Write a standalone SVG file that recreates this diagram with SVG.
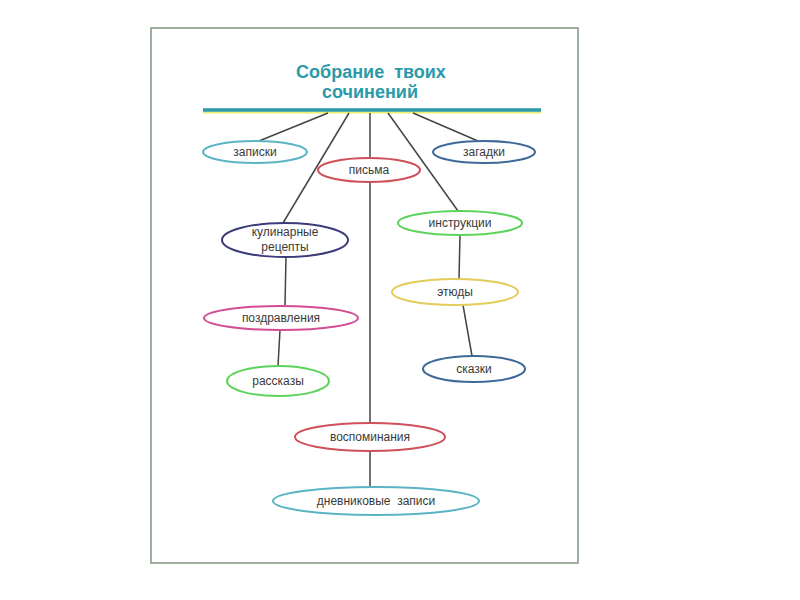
<svg xmlns="http://www.w3.org/2000/svg" width="800" height="600" viewBox="0 0 800 600">
<style>
.n ellipse{fill:#fff;stroke-width:2}
.n text{font-family:"Liberation Sans",Arial,sans-serif;font-size:12px;fill:#3a3a3a;text-anchor:middle}
.title{font-family:"Liberation Sans",Arial,sans-serif;font-size:18px;font-weight:bold;fill:#2a9aa8;text-anchor:middle}
#connectors line{stroke:#444;stroke-width:1.5}
.teal{stroke:#5ab4c4}.red{stroke:#d0505a}.blue{stroke:#3d6a98}.navy{stroke:#3c3c78}.green{stroke:#5cd45c}.mag{stroke:#d24e94}.yel{stroke:#e2cc5a}
</style>
<rect width="800" height="600" fill="#fff"/>
<rect x="151" y="28" width="427" height="535" fill="#fff" stroke="#7f957f" stroke-width="1.5"/>
<g id="title">
<text class="title" x="371" y="78" word-spacing="5">Собрание твоих</text>
<text class="title" x="370" y="98">сочинений</text>
<line x1="203" y1="112.5" x2="541" y2="112.5" stroke="#f0ee70" stroke-width="2"/>
<line x1="203" y1="110" x2="541" y2="110" stroke="#2a9aa8" stroke-width="3.5"/>
</g>
<g id="connectors">
<line x1="328" y1="113" x2="259" y2="141"/>
<line x1="349" y1="113" x2="283" y2="223"/>
<line x1="370" y1="113" x2="370" y2="158"/>
<line x1="388" y1="113" x2="458" y2="211"/>
<line x1="413" y1="113" x2="478" y2="141"/>
<line x1="286" y1="257" x2="285" y2="305"/>
<line x1="280" y1="330" x2="278" y2="366"/>
<line x1="460" y1="235" x2="459" y2="279"/>
<line x1="463" y1="305" x2="472" y2="356"/>
<line x1="370" y1="182" x2="370" y2="423"/>
<line x1="370" y1="451" x2="370" y2="487"/>
</g>
<g id="zapiski" class="n"><ellipse class="teal" cx="255" cy="152" rx="52" ry="11"/><text x="255" y="156">записки</text></g>
<g id="pisma" class="n"><ellipse class="red" cx="369" cy="170" rx="51" ry="12"/><text x="369" y="174">письма</text></g>
<g id="zagadki" class="n"><ellipse class="blue" cx="484" cy="152" rx="51" ry="11"/><text x="484" y="156">загадки</text></g>
<g id="kulinarnye" class="n"><ellipse class="navy" cx="285" cy="240" rx="63" ry="17"/><text x="285" y="236">кулинарные</text><text x="285" y="251">рецепты</text></g>
<g id="instruktsii" class="n"><ellipse class="green" cx="460" cy="223" rx="62" ry="12"/><text x="460" y="227">инструкции</text></g>
<g id="pozdravleniya" class="n"><ellipse class="mag" cx="281" cy="318" rx="77" ry="12"/><text x="281" y="322">поздравления</text></g>
<g id="rasskazy" class="n"><ellipse class="green" cx="278" cy="381" rx="51" ry="15"/><text x="278" y="385">рассказы</text></g>
<g id="etyudy" class="n"><ellipse class="yel" cx="455" cy="292" rx="63" ry="13"/><text x="455" y="296">этюды</text></g>
<g id="skazki" class="n"><ellipse class="blue" cx="474" cy="369" rx="51" ry="13"/><text x="474" y="373">сказки</text></g>
<g id="vospominaniya" class="n"><ellipse class="red" cx="370" cy="437" rx="75" ry="14"/><text x="370" y="441">воспоминания</text></g>
<g id="dnevnikovye" class="n"><ellipse class="teal" cx="376" cy="501" rx="103" ry="14"/><text x="376" y="505" xml:space="preserve">дневниковые  записи</text></g>
</svg>
